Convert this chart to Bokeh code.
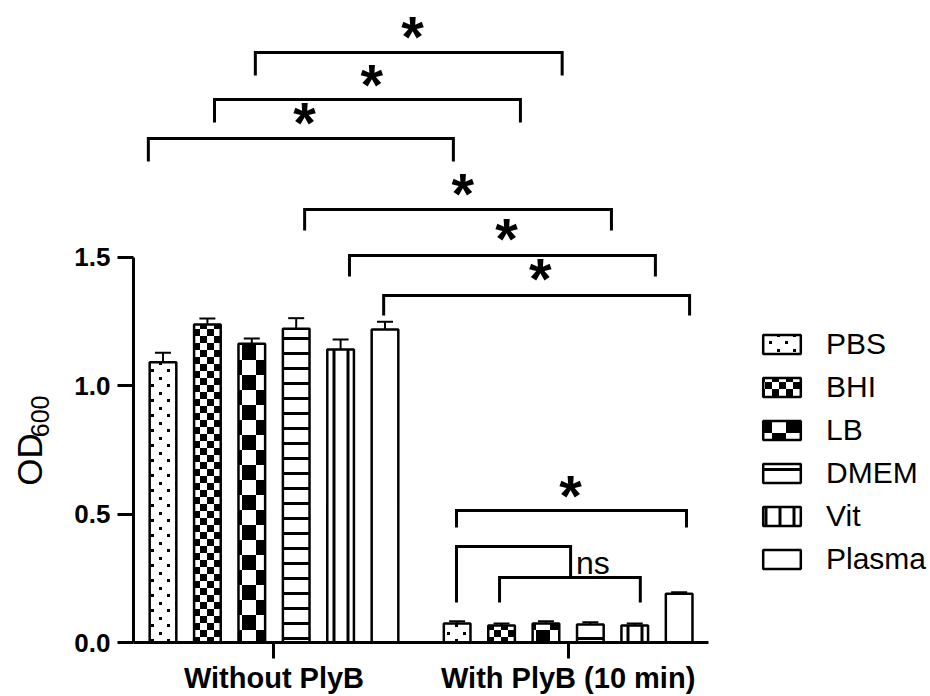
import math
from bokeh.plotting import figure
from bokeh.layouts import row
from bokeh.models import (ColumnDataSource, FixedTicker, NumeralTickFormatter, Range1d,
                          Whisker, TeeHead, Legend, LegendItem, CanvasTexture)
from bokeh.core.properties import value, field
from bokeh.embed import file_html
from bokeh.resources import INLINE

# ---------------- data ----------------
groups = ["Without PlyB", "With PlyB (10 min)"]
media = ["PBS", "BHI", "LB", "DMEM", "Vit", "Plasma"]
od_without = [1.090, 1.237, 1.162, 1.221, 1.140, 1.218]
err_without = [0.037, 0.024, 0.021, 0.041, 0.039, 0.030]
od_with = [0.074, 0.066, 0.074, 0.070, 0.066, 0.190]
err_with = [0.009, 0.008, 0.009, 0.009, 0.008, 0.006]
y_ticks = [0.0, 0.5, 1.0, 1.5]
y_title = "OD"
y_title_sub = "600"

# significance brackets (x in bar-slot units, y in OD600 units)
br_x0 = [3.08, 2.16, 0.67, 4.19, 5.20, 5.97, 7.61, 7.61, 8.58]
br_x1 = [9.99, 9.05, 7.54, 11.10, 12.09, 12.86, 12.79, 10.18, 11.75]
br_y = [2.296, 2.113, 1.961, 1.685, 1.506, 1.350, 0.514, 0.374, 0.253]
br_leg0 = [2.206, 2.023, 1.872, 1.603, 1.424, 1.272, 0.447, 0.156, 0.156]
br_leg1 = [2.206, 2.023, 1.872, 1.603, 1.424, 1.272, 0.447, 0.253, 0.156]
star_x = [6.62, 5.70, 4.19, 7.75, 8.74, 9.50, 10.18]
star_y = [2.393, 2.206, 2.058, 1.782, 1.607, 1.451, 0.607]
ns_x = [10.30]
ns_y = [0.284]

# ---------------- layout ----------------
W, H = 930, 696
LBL_W = 60                 # narrow panel holding the y-axis title
MAIN_W = W - LBL_W
LEFT = 133 - LBL_W
BOTTOM = 54
PX_X = 44.4      # px per bar slot
PX_Y = 257.0     # px per OD unit
GROUP_OFFSET = 6.625
x_start = 0.3356
x_end = x_start + (MAIN_W - LEFT) / PX_X
y_end = (H - BOTTOM) / PX_Y

FONT = "Liberation Sans"

p = figure(width=MAIN_W, height=H, output_backend="svg", toolbar_location=None,
           x_range=Range1d(x_start, x_end), y_range=Range1d(0, y_end),
           min_border_left=LEFT, min_border_right=0, min_border_top=0,
           min_border_bottom=BOTTOM, outline_line_color=None,
           background_fill_color="white", border_fill_color="white")
p.grid.visible = False

# patterns (canvas is resized inside the code so the tile size is explicit)
small_check = """
const c = ctx.canvas; c.width = 14; c.height = 14;
ctx.fillStyle = "#000000";
ctx.fillRect(0, 0, 7, 7);
ctx.fillRect(7, 7, 7, 7);
"""
big_check = """
const c = ctx.canvas; c.width = 28; c.height = 30;
ctx.fillStyle = "#000000";
ctx.fillRect(0, 0, 14, 15);
ctx.fillRect(14, 15, 14, 15);
"""
dots = """
const c = ctx.canvas; c.width = 16; c.height = 15;
ctx.fillStyle = "#000000";
ctx.fillRect(3, 2, 3, 3);
ctx.fillRect(11, 9, 3, 3);
"""
styles = {
    "PBS": dict(pattern="dots", scale=16, weight=1),
    "BHI": dict(pattern="smallcheck", scale=14, weight=1),
    "LB": dict(pattern="bigcheck", scale=28, weight=1),
    "DMEM": dict(pattern="horizontal_line", scale=15, weight=3),
    "Vit": dict(pattern="vertical_line", scale=14, weight=3),
    "Plasma": dict(pattern=None, scale=12, weight=1),
}
extra = {
    "dots": CanvasTexture(code=dots),
    "smallcheck": CanvasTexture(code=small_check),
    "bigcheck": CanvasTexture(code=big_check),
}

items = []
wx, wl, wu = [], [], []
for i, m in enumerate(media):
    xs = [1 + i, 1 + i + GROUP_OFFSET]
    tops = [od_without[i], od_with[i]]
    errs = [err_without[i], err_with[i]]
    st = styles[m]
    src = ColumnDataSource(dict(x=xs, top=tops, pat=[st["pattern"]] * 2))
    kw = {}
    if st["pattern"] in extra:
        kw = dict(hatch_pattern=field("pat"), hatch_extra={st["pattern"]: extra[st["pattern"]]})
    elif st["pattern"] is not None:
        kw = dict(hatch_pattern=st["pattern"])
    r = p.vbar(x="x", top="top", bottom=0, width=0.6, source=src,
               fill_color="white", line_color="black", line_width=2.5,
               hatch_color="black", hatch_scale=st["scale"], hatch_weight=st["weight"], **kw)
    items.append(LegendItem(label=m, renderers=[r]))
    wx += xs
    wl += tops
    wu += [t + e for t, e in zip(tops, errs)]

wsrc = ColumnDataSource(dict(x=wx, lower=wl, upper=wu))
p.add_layout(Whisker(source=wsrc, base="x", lower="lower", upper="upper",
                     line_width=2, line_color="black",
                     upper_head=TeeHead(size=16, line_width=2, line_color="black"),
                     lower_head=None))

# brackets
bxs = [[a, a, b, b] for a, b in zip(br_x0, br_x1)]
bys = [[l0, y, y, l1] for y, l0, l1 in zip(br_y, br_leg0, br_leg1)]
p.multi_line(xs=bxs, ys=bys, line_color="black", line_width=3, line_join="miter")

p.text(x=star_x, y=star_y, text=["*"] * len(star_x), text_font=value(FONT),
       text_font_style="bold", text_font_size="58px", text_align="center",
       text_baseline="alphabetic", y_offset=9, text_color="black")
p.text(x=ns_x, y=ns_y, text=["ns"], text_font=value(FONT), text_font_size="32px",
       text_align="left", text_baseline="alphabetic", y_offset=-7, text_color="black")

# axes
centers = [3.5, 3.5 + GROUP_OFFSET]
xa = p.xaxis[0]
xa.ticker = FixedTicker(ticks=centers)
xa.major_label_overrides = {c: g for c, g in zip(centers, groups)}
xa.bounds = (x_start, 13.29)
xa.axis_label_standoff = 0
ya = p.yaxis[0]
ya.ticker = FixedTicker(ticks=y_ticks)
ya.formatter = NumeralTickFormatter(format="0.0")
ya.bounds = (0, 1.5)
for ax in (xa, ya):
    ax.axis_line_width = 3
    ax.axis_line_color = "black"
    ax.major_tick_line_width = 3
    ax.major_tick_line_color = "black"
    ax.major_tick_out = 16
    ax.major_tick_in = 0
    ax.minor_tick_line_color = None
    ax.major_label_text_font = FONT
    ax.major_label_text_font_style = "bold"
    ax.major_label_text_color = "black"
ya.major_label_text_font_size = "26px"
ya.major_label_standoff = 7
xa.major_label_text_font_size = "29px"
xa.major_label_standoff = 3

legend = Legend(items=items, location=(625, 66), glyph_width=47, glyph_height=24,
                label_text_font=FONT, label_text_font_size="30px", label_standoff=21,
                spacing=9, padding=0, margin=0, border_line_color=None,
                background_fill_alpha=0, label_text_color="black")
p.add_layout(legend)

# ---------------- y-axis title panel (OD with subscript 600) ----------------
lab = figure(width=LBL_W, height=H, output_backend="svg", toolbar_location=None,
             x_range=Range1d(0, LBL_W), y_range=Range1d(0, H),
             x_axis_location=None, y_axis_location=None, min_border=0,
             outline_line_color=None, background_fill_color="white",
             border_fill_color="white")
lab.grid.visible = False
OD_SIZE, SUB_SIZE = 35, 25
od_start = H - 526                    # anchor of the rotated title
lab.text(x=[42 - 0.37 * OD_SIZE], y=[od_start], text=[y_title], angle=math.pi / 2,
         text_font=value(FONT), text_font_size=f"{OD_SIZE}px", text_color="black",
         text_align="left", text_baseline="alphabetic")
lab.text(x=[49 - 0.37 * SUB_SIZE], y=[od_start + 1.5 * OD_SIZE], text=[y_title_sub],
         angle=math.pi / 2, text_font=value(FONT), text_font_size=f"{SUB_SIZE}px",
         text_color="black", text_align="left", text_baseline="alphabetic")

layout = row(lab, p, spacing=0)
open("out.html", "w").write(file_html(layout, INLINE))
